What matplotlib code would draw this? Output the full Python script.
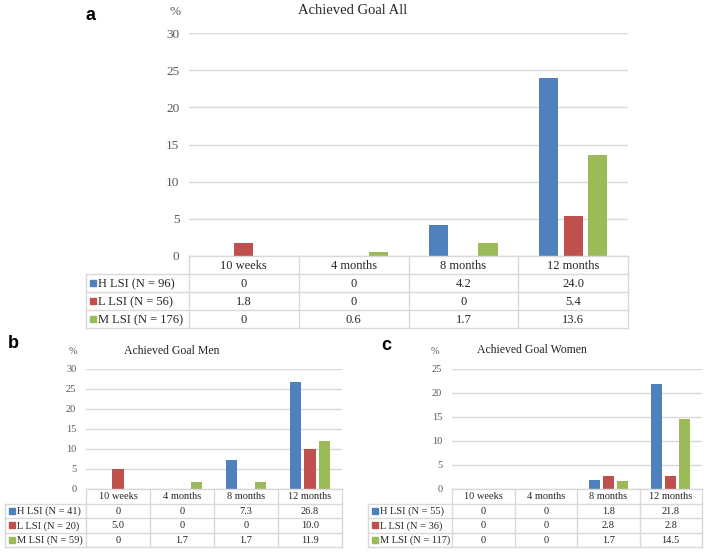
import matplotlib
matplotlib.use("Agg")
import matplotlib.pyplot as plt

# data
periods = ["10 weeks", "4 months", "8 months", "12 months"]
series_colors = ["#4F81BD", "#C0504D", "#9BBB59"]

all_labels = ["H LSI (N = 96)", "L LSI (N = 56)", "M LSI (N = 176)"]
all_h = [0, 0, 4.2, 24.0]
all_l = [1.8, 0, 0, 5.4]
all_m = [0, 0.6, 1.7, 13.6]

men_labels = ["H LSI (N = 41)", "L LSI (N = 20)", "M LSI (N = 59)"]
men_h = [0, 0, 7.3, 26.8]
men_l = [5.0, 0, 0, 10.0]
men_m = [0, 1.7, 1.7, 11.9]

women_labels = ["H LSI (N = 55)", "L LSI (N = 36)", "M LSI (N = 117)"]
women_h = [0, 0, 1.8, 21.8]
women_l = [0, 0, 2.8, 2.8]
women_m = [0, 0, 1.7, 14.5]

W, H = 706, 553
SERIF = "Liberation Serif"
GRID = "#d9d9d9"
TXT = "#262626"

fig = plt.figure(figsize=(W / 100, H / 100), dpi=100)


def px_axes(x0, y0, x1, y1):
    # pixel box (top-left origin) -> figure axes
    return fig.add_axes([x0 / W, 1 - y1 / H, (x1 - x0) / W, (y1 - y0) / H])


def fmt(v):
    return "0" if v == 0 else f"{v:.1f}"


def panel(letter, title, labels, series, ymax, box, tab_left, tab_bottom,
          fs_tick, fs_tab, fs_title, title_xy, pct_xy, letter_xy):
    x0, y0, x1, y1 = box
    ax = px_axes(x0, y0, x1, y1)
    n = len(periods)
    width = 0.175
    offs = [-0.225, 0, 0.225]
    for vals, c, o in zip(series, series_colors, offs):
        ax.bar([i + 0.5 + o for i in range(n)], vals, width, color=c, zorder=3)
    ax.set_xlim(0, n)
    ax.set_ylim(0, ymax)
    ax.set_yticks(range(0, ymax + 1, 5))
    ax.set_xticks([])
    ax.grid(axis="y", color=GRID, lw=1, zorder=0)
    for s in ax.spines.values():
        s.set_visible(False)
    ax.tick_params(axis="y", length=0, pad=7, labelsize=fs_tick, labelcolor="#595959")
    for t in ax.get_yticklabels():
        t.set_fontfamily(SERIF)

    # data table under the bars
    col_px = (x1 - x0) / n
    lw = (x0 - tab_left) / col_px
    tx = px_axes(tab_left, y1, x1, tab_bottom)
    tx.set_xlim(-lw, n)
    tx.set_ylim(4, 0)
    tx.axis("off")
    kw = dict(color=GRID, lw=1, clip_on=False)
    tx.plot([0, n], [0, 0], **kw)
    for r in range(1, 5):
        tx.plot([-lw, n], [r, r], **kw)
    tx.plot([-lw, -lw], [1, 4], **kw)
    for i in range(n + 1):
        tx.plot([i, i], [0, 4], **kw)
    for i, p in enumerate(periods):
        tx.text(i + 0.5, 0.55, p, ha="center", va="center", fontsize=fs_tab,
                family=SERIF, color=TXT)
    sq_x = -lw + 7 / col_px
    for r, (lab, vals, c) in enumerate(zip(labels, series, series_colors)):
        tx.plot([sq_x], [r + 1.5], marker="s", ms=4.2, color=c, clip_on=False)
        tx.text(sq_x + 5 / col_px, r + 1.55, lab, ha="left", va="center",
                fontsize=fs_tab, family=SERIF, color=TXT)
        for i, v in enumerate(vals):
            tx.text(i + 0.5, r + 1.55, fmt(v), ha="center", va="center",
                    fontsize=fs_tab, family=SERIF, color=TXT)

    fig.text(title_xy[0] / W, 1 - title_xy[1] / H, title, ha="center", va="center",
             fontsize=fs_title, family=SERIF, color=TXT)
    fig.text(pct_xy[0] / W, 1 - pct_xy[1] / H, "%", ha="center", va="center",
             fontsize=fs_tick, family=SERIF, color="#595959")
    fig.text(letter_xy[0] / W, 1 - letter_xy[1] / H, letter, ha="center", va="center",
             fontsize=13, family="Liberation Sans", weight="bold", color="black")


panel("a", "Achieved Goal All", all_labels, [all_h, all_l, all_m], 30,
      (189, 33, 628, 256), 86, 328, 9.5, 9, 10.5,
      (353, 11), (175, 12), (91, 15))
panel("b", "Achieved Goal Men", men_labels, [men_h, men_l, men_m], 30,
      (86, 369, 342, 489), 5, 547, 7.5, 7.5, 8.5,
      (172, 351), (73, 352), (13, 344))
panel("c", "Achieved Goal Women", women_labels, [women_h, women_l, women_m], 25,
      (452, 369, 702, 489), 368, 547, 7.5, 7.5, 8.5,
      (532, 350), (435, 351), (386, 346))

fig.savefig("out.png", dpi=100, facecolor="white")
